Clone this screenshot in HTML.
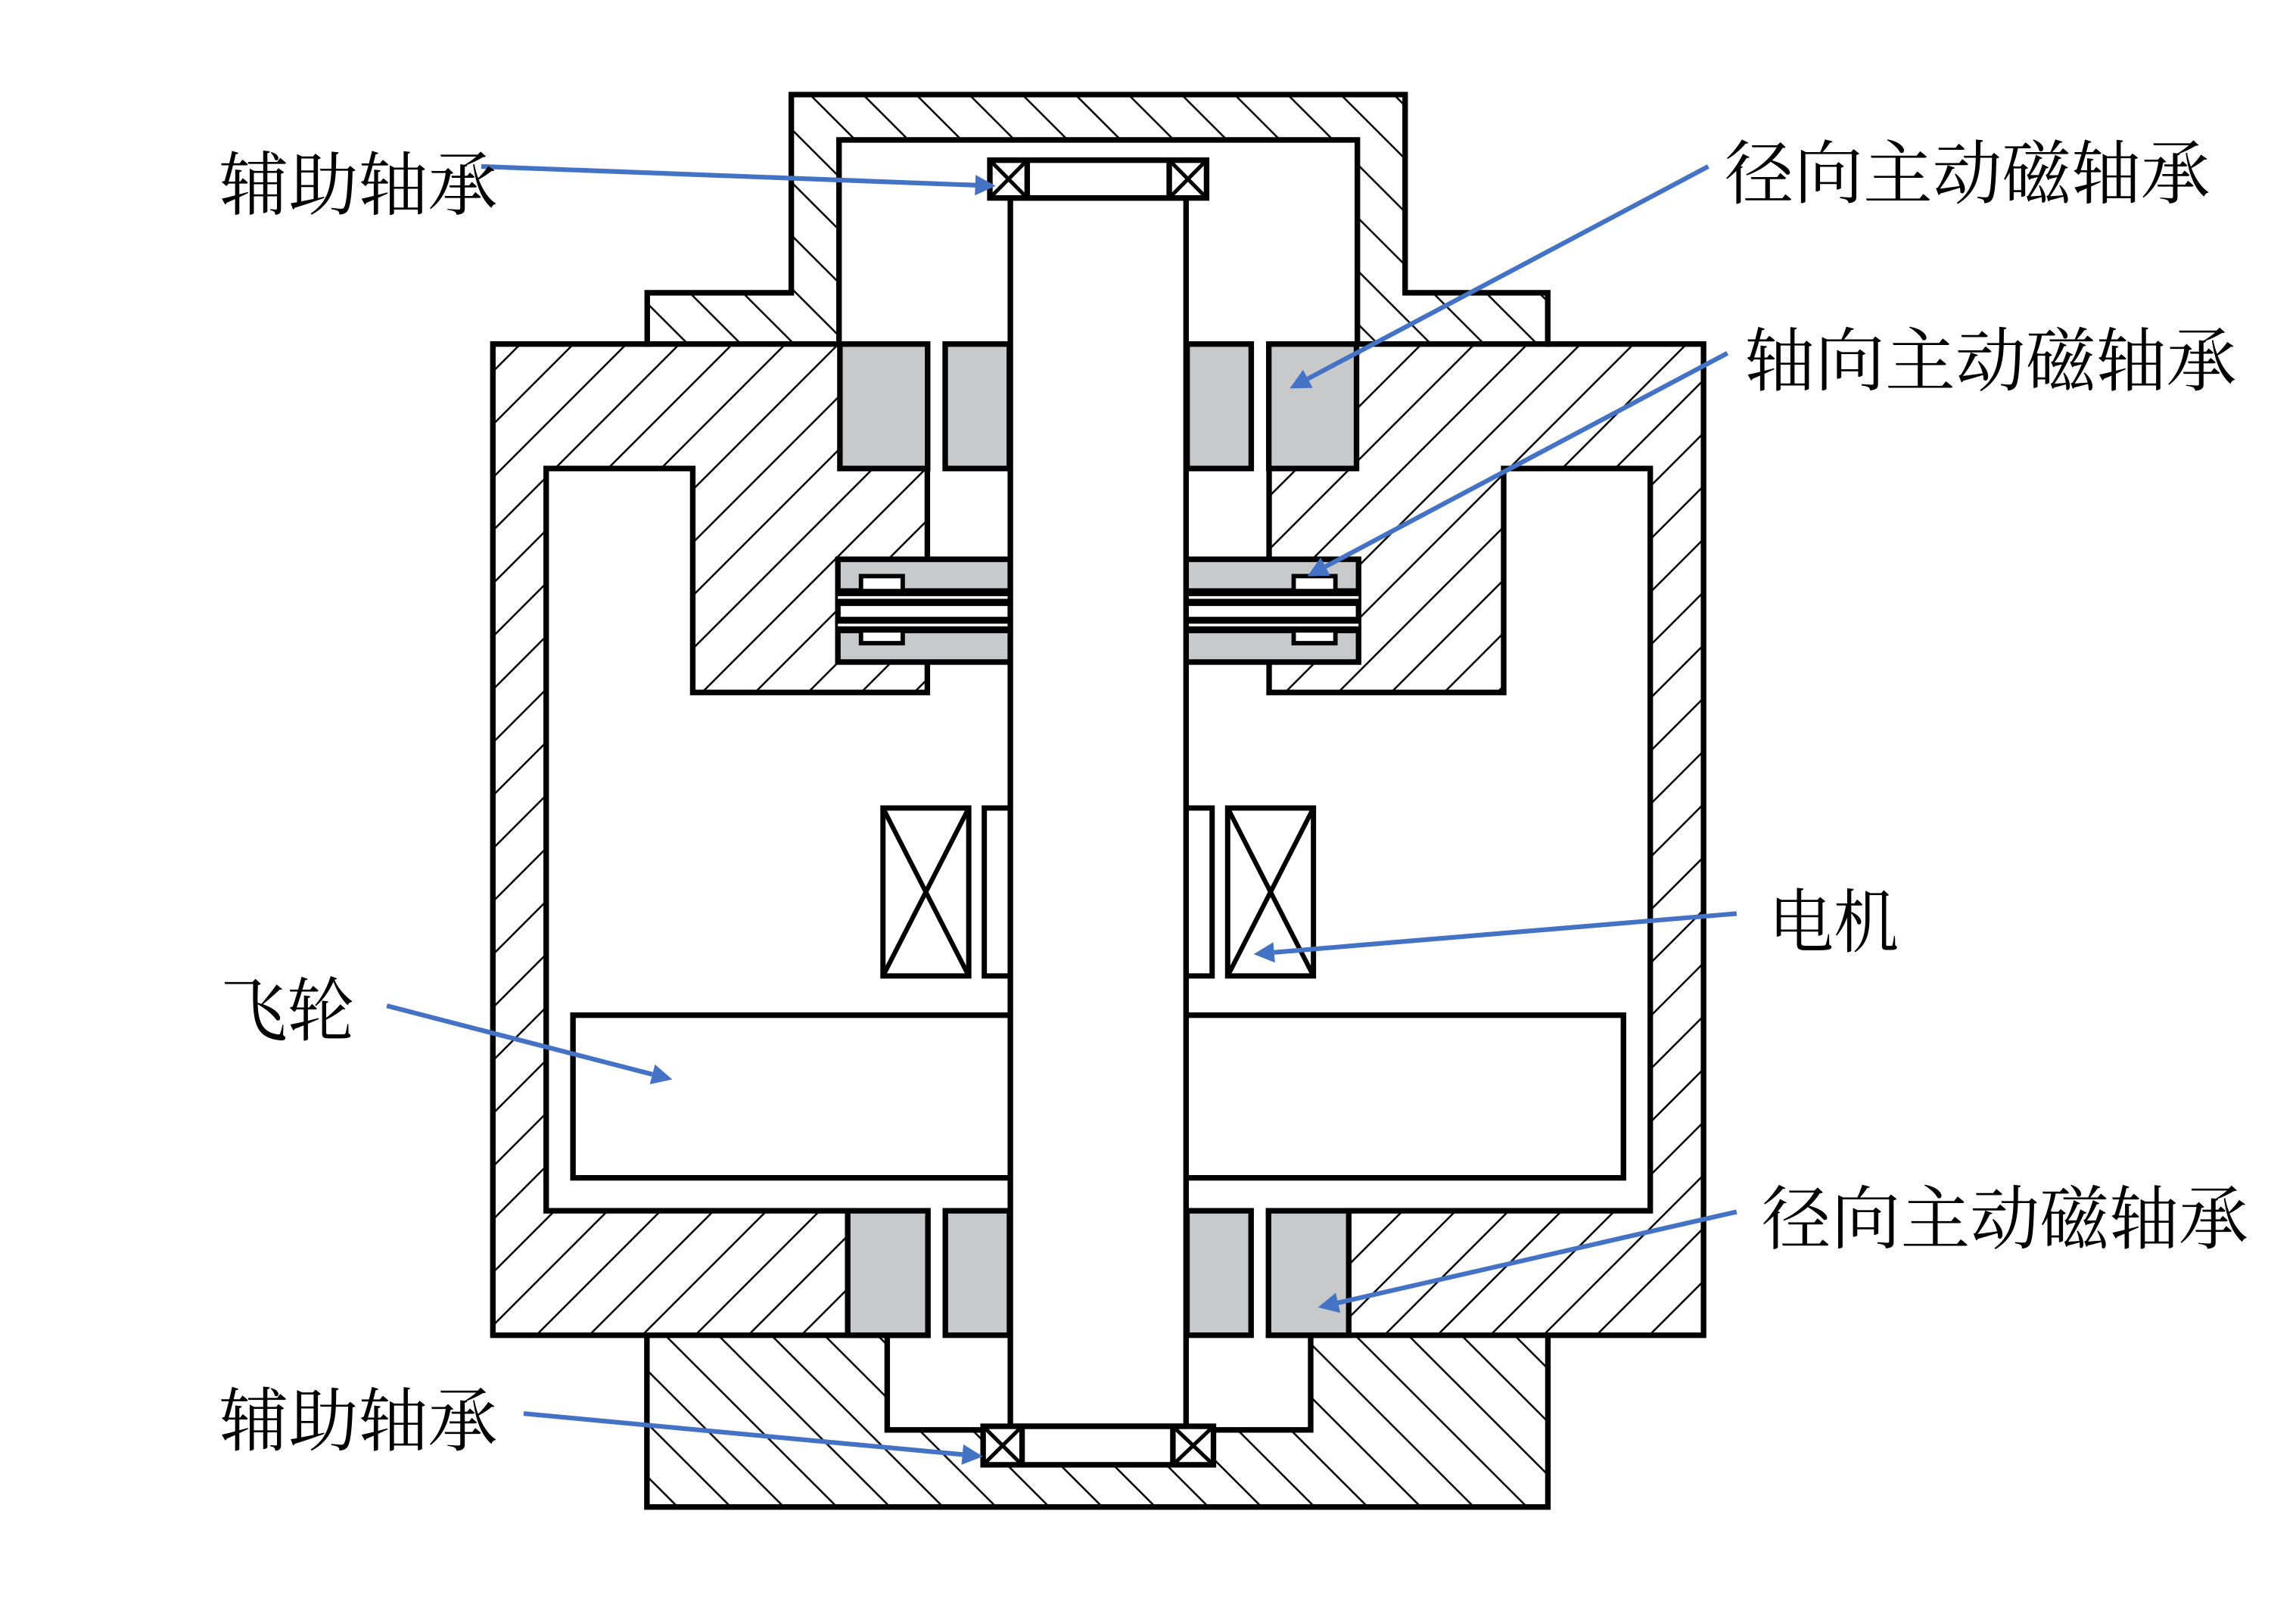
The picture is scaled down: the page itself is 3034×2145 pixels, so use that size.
<!DOCTYPE html>
<html><head><meta charset="utf-8">
<style>html,body{margin:0;padding:0;background:#fff;}svg{display:block;}</style></head>
<body>
<svg xmlns="http://www.w3.org/2000/svg" width="3034" height="2145" viewBox="0 0 1568 1108.56">
<defs>
<pattern id="hm" patternUnits="userSpaceOnUse" x="11.2" y="0" width="36.2" height="36.2">
<path d="M-2,38.2 L38.2,-2 M-2,2 L2,-2 M34.2,38.2 L38.2,34.2" stroke="#000" stroke-width="1.3" fill="none"/>
</pattern>
<pattern id="hc" patternUnits="userSpaceOnUse" x="17.3" y="0" width="36.25" height="36.25">
<path d="M-2,-2 L38.25,38.25 M34.25,-2 L38.25,2 M-2,34.25 L2,38.25" stroke="#000" stroke-width="1.3" fill="none"/>
</pattern>
<pattern id="hb" patternUnits="userSpaceOnUse" x="13.5" y="0" width="36.25" height="36.25">
<path d="M-2,-2 L38.25,38.25 M34.25,-2 L38.25,2 M-2,34.25 L2,38.25" stroke="#000" stroke-width="1.3" fill="none"/>
</pattern>
</defs>
<rect x="0" y="0" width="1568" height="1108.56" fill="#fff"/>

<!-- hatched bodies -->
<rect x="336.6" y="235" width="826.8" height="677" fill="url(#hm)"/>
<path d="M442,235 V200 H540.4 V64.6 H959.6 V200 H1057 V235 Z" fill="url(#hc)"/>
<rect x="441.8" y="912" width="615.3" height="117.3" fill="url(#hb)"/>

<!-- white cavities -->
<rect x="573" y="95.6" width="354" height="140" fill="#fff"/>
<path d="M373,320 H473.1 V473 H633.3 V235 H866.7 V473 H1026.9 V320 H1127 V827 H373 Z" fill="#fff"/>
<rect x="633.3" y="826" width="233.4" height="87" fill="#fff"/>
<rect x="605.9" y="911" width="289.2" height="65.7" fill="#fff"/>

<!-- housing outlines -->
<g fill="none" stroke="#000" stroke-width="3.8" stroke-linecap="square" stroke-linejoin="miter">
<path d="M442,235 V200 H540.4 V64.6 H959.6 V200 H1057 V235"/>
<path d="M573,235 V95.6 H927 V235"/>
<path d="M573.6,235 H336.6 V912 H633.7"/>
<path d="M926.4,235 H1163.4 V912 H866.3"/>
<path d="M633.3,320 V382"/>
<path d="M633.3,452 V473 H473.1 V320 H373 V827 H578.9"/>
<path d="M866.7,320 V382"/>
<path d="M866.7,452 V473 H1026.9 V320 H1127 V827 H921.1"/>
<path d="M441.8,912 V1029.3 H1057.1 V912"/>
<path d="M605.9,912 V976.7 H671.4"/>
<path d="M828.7,976.7 H895.1 V912"/>
</g>

<!-- radial magnetic bearings (gray) -->
<g fill="#c8c9cb" stroke="#000" stroke-width="3.8">
<rect x="573.6" y="235" width="59.9" height="85"/>
<rect x="645.5" y="235" width="43.8" height="85"/>
<rect x="810.7" y="235" width="43.8" height="85"/>
<rect x="866.5" y="235" width="59.9" height="85"/>
<rect x="578.9" y="827" width="54.8" height="85"/>
<rect x="645.6" y="827" width="43.8" height="85"/>
<rect x="810.6" y="827" width="43.8" height="85"/>
<rect x="866.3" y="827" width="54.8" height="85"/>
</g>

<!-- axial bearing plates -->
<g>
<rect x="570.3" y="403.7" width="121.6" height="8.3" fill="#000"/>
<rect x="572.2" y="407.2" width="117.8" height="1.8" fill="#fff"/>
<rect x="570.3" y="423.2" width="121.6" height="7.4" fill="#000"/>
<rect x="572.2" y="426" width="117.8" height="1.8" fill="#fff"/>
<rect x="808.1" y="403.7" width="121.6" height="8.3" fill="#000"/>
<rect x="810" y="407.2" width="117.8" height="1.8" fill="#fff"/>
<rect x="808.1" y="423.2" width="121.6" height="7.4" fill="#000"/>
<rect x="810" y="426" width="117.8" height="1.8" fill="#fff"/>
</g>
<g stroke="#000" stroke-width="3.8">
<rect x="572.2" y="382" width="117.8" height="21.7" fill="#c8c9cb"/>
<rect x="572.2" y="412" width="117.8" height="11.2" fill="#fff"/>
<rect x="572.2" y="430.6" width="117.8" height="21.6" fill="#c8c9cb"/>
<rect x="810" y="382" width="117.8" height="21.7" fill="#c8c9cb"/>
<rect x="810" y="412" width="117.8" height="11.2" fill="#fff"/>
<rect x="810" y="430.6" width="117.8" height="21.6" fill="#c8c9cb"/>
</g>
<g stroke="#000" stroke-width="3" fill="#fff">
<rect x="588" y="393.5" width="28.5" height="10.2"/>
<rect x="588" y="430.6" width="28.5" height="8.7"/>
<rect x="883.5" y="393.5" width="28.5" height="10.2"/>
<rect x="883.5" y="430.6" width="28.5" height="8.7"/>
</g>

<!-- flywheel -->
<rect x="391.3" y="693.4" width="717.4" height="111.1" fill="#fff" stroke="#000" stroke-width="3.8"/>

<!-- motor -->
<g fill="#fff" stroke="#000" stroke-width="3.6">
<rect x="603" y="551.9" width="58.6" height="114.7"/>
<rect x="838.4" y="551.9" width="58.6" height="114.7"/>
<rect x="672.2" y="551.9" width="17.8" height="114.7"/>
<rect x="810" y="551.9" width="17.8" height="114.7"/>
</g>
<g stroke="#000" stroke-width="3.2" fill="none">
<path d="M603,551.9 L661.6,666.6 M661.6,551.9 L603,666.6"/>
<path d="M838.4,551.9 L897,666.6 M897,551.9 L838.4,666.6"/>
</g>

<!-- shaft -->
<rect x="690" y="135.2" width="120" height="839" fill="#fff" stroke="#000" stroke-width="3.8"/>

<!-- auxiliary bearings -->
<g stroke="#000" stroke-width="3.8" fill="#fff">
<rect x="676" y="109.4" width="148" height="25.8"/>
<rect x="671.4" y="974.2" width="157.3" height="26.3"/>
</g>
<g stroke="#000" stroke-width="3.8" fill="none">
<path d="M701.5,109.4 V135.2 M798.5,109.4 V135.2"/>
<path d="M698,974.2 V1000.5 M801,974.2 V1000.5"/>
</g>
<g stroke="#000" stroke-width="2.6" fill="none">
<path d="M676,109.4 L701.5,135.2 M701.5,109.4 L676,135.2"/>
<path d="M798.5,109.4 L824,135.2 M824,109.4 L798.5,135.2"/>
<path d="M671.4,974.2 L698,1000.5 M698,974.2 L671.4,1000.5"/>
<path d="M801,974.2 L828.7,1000.5 M828.7,974.2 L801,1000.5"/>
</g>

<!-- arrows -->
<g stroke="#4472c4" stroke-width="3.2" fill="none" stroke-linecap="butt">
<line x1="328.6" y1="113.7" x2="666.5" y2="126.5"/>
<line x1="1166.6" y1="113.7" x2="893.2" y2="258.7"/>
<line x1="1179.7" y1="241.2" x2="905.2" y2="387"/>
<line x1="1186" y1="624" x2="870.2" y2="650.5"/>
<line x1="264.2" y1="687" x2="445.5" y2="733.8"/>
<line x1="1186" y1="827.7" x2="913.7" y2="889.9"/>
<line x1="357.6" y1="965.5" x2="657.3" y2="993.5"/>
</g>
<g fill="#4472c4" stroke="none">
<polygon points="680,127 665.75,133.46 666.27,119.47"/>
<polygon points="880.8,265.3 889.89,252.56 896.45,264.92"/>
<polygon points="892.8,393.6 901.88,380.85 908.44,393.21"/>
<polygon points="856.2,651.7 869.56,643.55 870.74,657.51"/>
<polygon points="459.1,737.3 443.79,740.58 447.29,727.02"/>
<polygon points="900.1,893 912.19,883.06 915.31,896.7"/>
<polygon points="671.2,994.8 656.61,1000.47 657.91,986.53"/>
</g>

<!-- labels -->
<g font-family="'Liberation Serif', 'Noto Serif CJK SC', serif" font-size="47.5" fill="#000">
<text x="149.7" y="143" textLength="190" lengthAdjust="spacingAndGlyphs">辅助轴承</text>
<text x="1177.7" y="135.2" textLength="331.6" lengthAdjust="spacingAndGlyphs">径向主动磁轴承</text>
<text x="1191.4" y="263" textLength="336" lengthAdjust="spacingAndGlyphs">轴向主动磁轴承</text>
<text x="1207.7" y="646.5" textLength="89" lengthAdjust="spacingAndGlyphs">电机</text>
<text x="150.3" y="707" textLength="91.7" lengthAdjust="spacingAndGlyphs">飞轮</text>
<text x="1203" y="849.2" textLength="332.4" lengthAdjust="spacingAndGlyphs">径向主动磁轴承</text>
<text x="149.7" y="987" textLength="190" lengthAdjust="spacingAndGlyphs">辅助轴承</text>
</g>
</svg>
</body></html>
